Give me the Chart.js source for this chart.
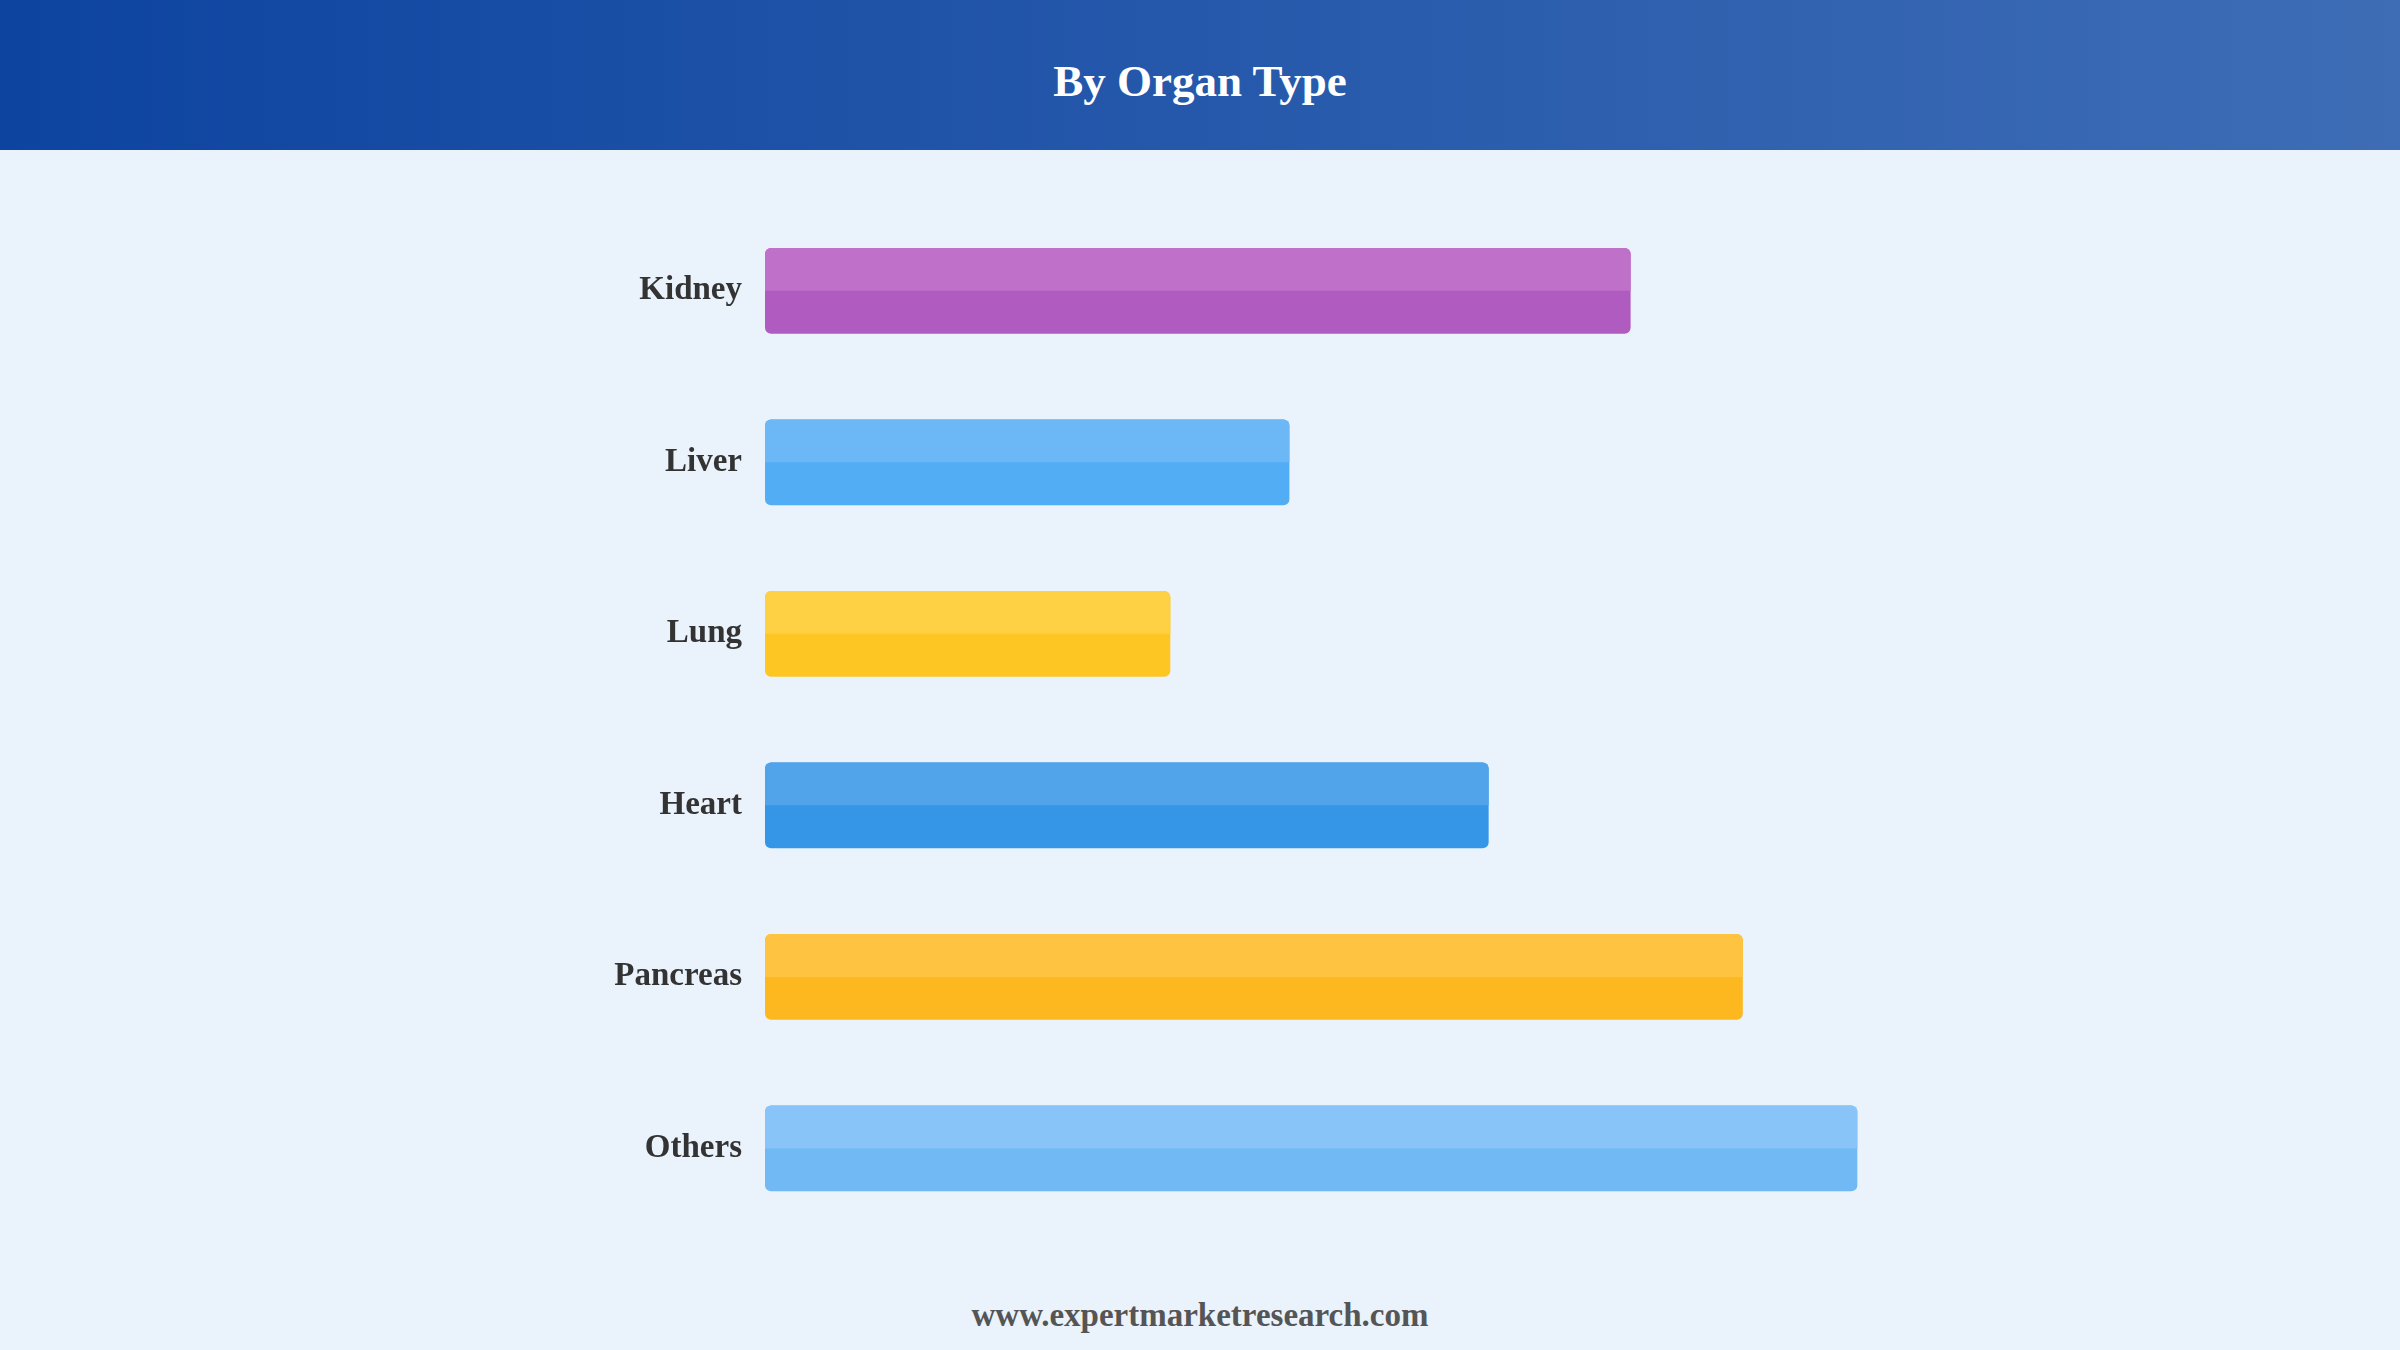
<!DOCTYPE html>
<html>
<head>
<meta charset="utf-8">
<script src="https://cdn.jsdelivr.net/npm/chart.js@4.4.0/dist/chart.umd.min.js"></script>
<style>
  html, body { margin: 0; padding: 0; }
  body { width: 2400px; height: 1350px; background: #eaf2fb; position: relative; overflow: hidden; font-family: "Liberation Serif", "Times New Roman", serif; }
  .header { position: absolute; left: 0; top: 0; width: 2400px; height: 150px; background: linear-gradient(to right, #0d44a0, #3e6db6); }
  .header h1 { margin: 0; line-height: 163px; text-align: center; color: #fff; font-size: 45px; font-weight: bold; }
  .wrap { position: absolute; left: 0; top: 150px; width: 2400px; height: 1127px; }
  .footer { position: absolute; left: 0; top: 1290px; width: 2400px; text-align: center; color: #555; font-size: 33px; font-weight: bold; line-height: 50px; }
</style>
</head>
<body>
<div class="header"><h1>By Organ Type</h1></div>
<div class="wrap"><canvas id="myChart"></canvas></div>
<div class="footer">www.expertmarketresearch.com</div>
<script>
// organ types and their (estimated) share
const organs = ['Kidney', 'Liver', 'Lung', 'Heart', 'Pancreas', 'Others'];
const shares = [18.9, 11.45, 8.85, 15.8, 21.35, 23.85];

// lower half / upper half tones of each bar
const barColors = ['#b05bc0', '#52adf4', '#fdc623', '#3596e8', '#fdb81f', '#71b9f5'];
const topColors = ['#bf71ca', '#6cb8f6', '#fed044', '#52a4ea', '#fec340', '#88c4f7'];

// paint the lighter top half over each bar
const twoTone = {
  id: 'twoTone',
  afterDatasetsDraw(chart) {
    const ctx = chart.ctx;
    const meta = chart.getDatasetMeta(0);
    meta.data.forEach((bar, i) => {
      const left = Math.min(bar.base, bar.x);
      const w = Math.abs(bar.x - bar.base);
      const top = bar.y - bar.height / 2;
      ctx.save();
      ctx.fillStyle = topColors[i];
      ctx.beginPath();
      ctx.roundRect(left, top, w, bar.height / 2, [6, 6, 0, 0]);
      ctx.fill();
      ctx.restore();
    });
  }
};

const ctx = document.getElementById('myChart').getContext('2d');
new Chart(ctx, {
  type: 'bar',
  data: {
    labels: organs,
    datasets: [{
      data: shares,
      backgroundColor: barColors,
      borderWidth: 0,
      borderRadius: 6,
      borderSkipped: false,
      categoryPercentage: 1,
      barPercentage: 0.5,
    }],
  },
  options: {
    indexAxis: 'y',
    responsive: true,
    maintainAspectRatio: false,
    animation: false,
    // bottom space comes from the y axis label padding (~43px)
    layout: { padding: { left: 0, right: 261, top: 55, bottom: 0 } },
    plugins: {
      legend: { display: false },
      tooltip: { enabled: false },
    },
    scales: {
      x: { display: false, min: 0, max: 30 },
      y: {
        grid: { display: false, drawTicks: false },
        border: { display: false },
        ticks: {
          padding: 23,
          color: '#333',
          font: { family: '"Liberation Serif", "Times New Roman", serif', size: 33, weight: 'bold' },
        },
        afterFit: (scale) => { scale.width = 765; },
      },
    },
  },
  plugins: [twoTone],
});
</script>
</body>
</html>
